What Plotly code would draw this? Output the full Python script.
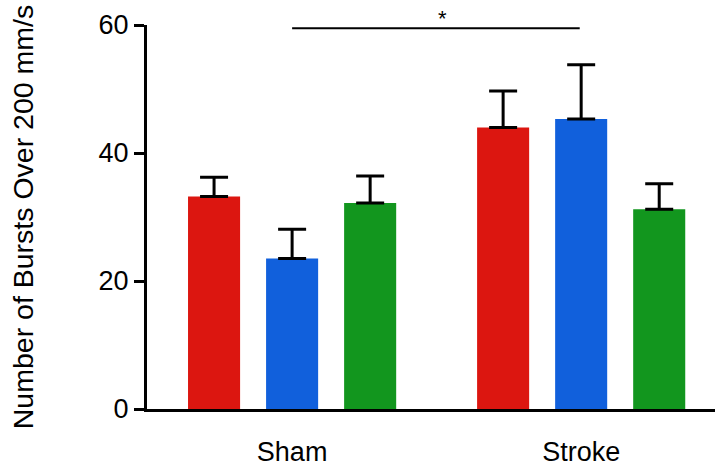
import plotly.graph_objects as go

groups = ["Sham", "Stroke"]
series_names = ["Red", "Blue", "Green"]
series_colors = ["#dc1610", "#1160dc", "#12961e"]
means = {
    "Red": [33.2, 44.0],
    "Blue": [23.5, 45.3],
    "Green": [32.2, 31.2],
}
errors = {
    "Red": [3.0, 5.7],
    "Blue": [4.6, 8.5],
    "Green": [4.2, 4.0],
}
y_ticks = [0, 20, 40, 60]
sig_label = "*"
sig_y = 59.5

FONT = "Liberation Sans, Arial, Helvetica, sans-serif"
FS = 27

fig = go.Figure()
for name, color in zip(series_names, series_colors):
    fig.add_trace(go.Bar(
        x=groups, y=means[name], name=name,
        marker=dict(color=color, line=dict(width=0)),
        error_y=dict(type="data", symmetric=False, array=errors[name],
                     arrayminus=[0, 0], color="black", thickness=3, width=14),
        hoverinfo="skip",
    ))

fig.add_shape(type="line", xref="x", yref="y", x0=0, x1=0.995, y0=sig_y, y1=sig_y,
              line=dict(color="black", width=2))
fig.add_annotation(x=0.52, y=sig_y, xref="x", yref="y", text=sig_label, showarrow=False,
                   yanchor="bottom", yshift=-5, font=dict(size=22, color="black", family=FONT))

fig.update_layout(
    width=715, height=470,
    margin=dict(l=147, r=0, t=25, b=61),
    paper_bgcolor="white", plot_bgcolor="white",
    showlegend=False,
    barmode="group", bargap=0.19, bargroupgap=0.333,
    font=dict(family=FONT, size=FS, color="black"),
)
fig.update_xaxes(
    range=[-0.502, 1.463], showline=True, linecolor="black", linewidth=3,
    ticks="", showgrid=False, tickfont=dict(size=FS), ticklabelstandoff=17,
)
fig.update_yaxes(
    range=[0, 60], tickvals=y_ticks, showline=True, linecolor="black", linewidth=3,
    ticks="outside", ticklen=10, tickwidth=3, tickcolor="black", showgrid=False,
    zeroline=False, tickfont=dict(size=FS),
    title=dict(text="Number of Bursts Over 200 mm/s", font=dict(size=28.5), standoff=57),
)

fig.write_html("out.html", config={"displayModeBar": False},
               post_script="document.body.style.margin='0';")
